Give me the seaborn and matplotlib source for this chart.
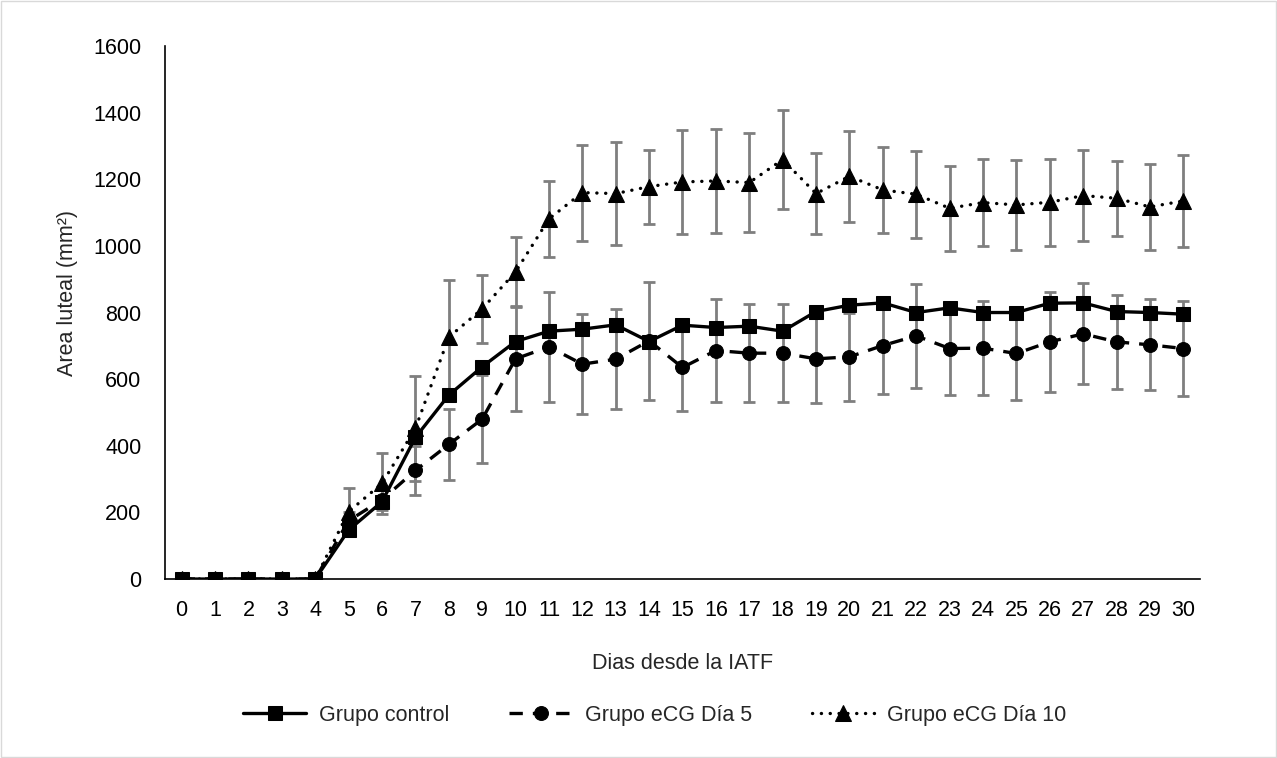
import numpy as np
import pandas as pd
import seaborn as sns
import matplotlib.pyplot as plt
from matplotlib.patches import Rectangle

# datos
dias = list(range(31))
control = [0, 0, 0, 0, 0, 147, 232, 425, 552, 637, 713, 744, 750, 763, 713, 762,
           755, 759, 744, 803, 822, 829, 800, 814, 800, 800, 828, 829, 803, 800, 795]
dia5 = [0, 0, 0, 0, 0, 175, 238, 326, 404, 480, 661, 697, 645, 660, 715, 635,
        686, 678, 678, 661, 667, 701, 730, 692, 693, 677, 712, 736, 712, 703, 692]
dia5_err = [0, 0, 0, 0, 0, 25, 30, 74, 107, 132, 158, 166, 150, 150, 177, 132,
            155, 148, 148, 133, 133, 146, 157, 139, 142, 139, 150, 152, 142, 137, 142]
dia10 = [0, 0, 0, 0, 0, 202, 287, 452, 726, 811, 922, 1081, 1160, 1157, 1178, 1192,
         1195, 1190, 1259, 1157, 1209, 1168, 1155, 1113, 1130, 1123, 1131, 1151, 1143, 1117, 1135]
dia10_err = [0, 0, 0, 0, 0, 70, 92, 157, 171, 103, 105, 115, 144, 154, 111, 155,
             157, 148, 148, 122, 137, 130, 130, 127, 131, 134, 130, 137, 113, 130, 138]

sns.set_style("white")
plt.rcParams['font.family'] = ['Liberation Sans', 'DejaVu Sans']
fs = 15.5

fig = plt.figure(figsize=(12.77, 7.58), dpi=100)
ax = fig.add_axes([0.1292, 0.2361, 0.8105, 0.7032])

df = pd.DataFrame({"dia": dias, "control": control, "dia5": dia5, "dia10": dia10})

# barras de error (debajo de las líneas)
gris = "#7f7f7f"
ax.errorbar(dias[5:], dia5[5:], yerr=dia5_err[5:], fmt='none', ecolor=gris,
            elinewidth=2, capsize=4.5, capthick=2, zorder=1)
ax.errorbar(dias[5:], dia10[5:], yerr=dia10_err[5:], fmt='none', ecolor=gris,
            elinewidth=2, capsize=4.5, capthick=2, zorder=1)

sns.lineplot(data=df, x="dia", y="dia10", ax=ax, color="black", marker="^",
             markersize=11, linestyle=(0, (0.05, 2.6)), linewidth=2.4,
             dash_capstyle='round', markeredgecolor="black", label="Grupo eCG Día 10", zorder=3)
sns.lineplot(data=df, x="dia", y="dia5", ax=ax, color="black", marker="o",
             markersize=10, linestyle=(0, (4, 3)), linewidth=2.4,
             markeredgecolor="black", label="Grupo eCG Día 5", zorder=4)
sns.lineplot(data=df, x="dia", y="control", ax=ax, color="black", marker="s",
             markersize=10, linestyle="-", linewidth=2.4,
             markeredgecolor="black", label="Grupo control", zorder=5)

ax.set_xlim(-0.5, 30.5)
ax.set_ylim(0, 1600)
ax.set_xticks(dias)
ax.set_yticks(range(0, 1601, 200))
ax.tick_params(length=0, labelsize=fs, colors="black")
ax.tick_params(axis="x", pad=15)
ax.tick_params(axis="y", pad=17)
for s in ["top", "right"]:
    ax.spines[s].set_visible(False)
for s in ["left", "bottom"]:
    ax.spines[s].set_color("black")
    ax.spines[s].set_linewidth(1.2)

ax.set_xlabel("Dias desde la IATF", fontsize=fs)
ax.xaxis.set_label_coords(0.5, (579 - 653) / 533, transform=ax.transAxes)
ax.set_ylabel("Area luteal (mm²)", fontsize=fs)
ax.yaxis.set_label_coords(-0.084, 0.537)

handles, labels = ax.get_legend_handles_labels()
ax.get_legend().remove()
orden = [2, 1, 0]
fig.legend([handles[i] for i in orden], [labels[i] for i in orden],
           loc="center", bbox_to_anchor=(655 / 1277, 1 - 715 / 758), ncol=3, frameon=False,
           fontsize=fs, handlelength=2.9, columnspacing=2.8, handletextpad=0.6)

fig.patches.append(Rectangle((0.001, 0.001), 0.998, 0.998, transform=fig.transFigure,
                             fill=False, edgecolor="#d9d9d9", linewidth=1))

fig.savefig("out.png", dpi=100)
